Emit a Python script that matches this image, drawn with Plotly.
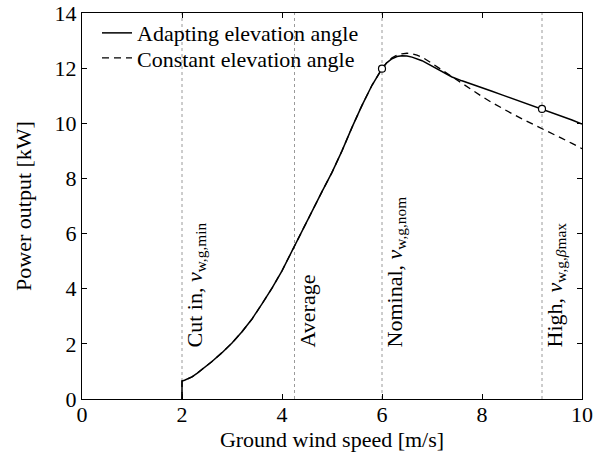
import plotly.graph_objects as go

# Data
wind_adapt = [2.0, 2.0, 2.05, 2.1, 2.2, 2.3, 2.4, 2.6, 2.8, 3.0, 3.2, 3.4, 3.6, 3.8, 4.0,
              4.2, 4.4, 4.6, 4.8, 5.0, 5.2, 5.4, 5.6, 5.8, 5.9, 6.0, 6.1, 6.2, 6.3, 6.4,
              6.5, 6.6, 6.8, 7.0, 7.2, 7.4, 7.6, 7.8, 8.0, 8.2, 8.4, 8.6, 8.8, 9.0, 9.2,
              9.4, 9.6, 9.8, 10.0]
power_adapt = [0.0, 0.65, 0.68, 0.72, 0.8, 0.93, 1.07, 1.36, 1.68, 2.03, 2.44, 2.9, 3.45, 4.02, 4.65,
               5.38, 6.1, 6.82, 7.52, 8.22, 9.0, 9.85, 10.65, 11.38, 11.7, 11.98, 12.2, 12.34, 12.42, 12.45,
               12.44, 12.4, 12.27, 12.08, 11.87, 11.68, 11.54, 11.42, 11.29, 11.16, 11.03, 10.9, 10.77, 10.65, 10.52,
               10.39, 10.26, 10.12, 9.97]

wind_const = [2.0, 2.0, 2.05, 2.1, 2.2, 2.3, 2.4, 2.6, 2.8, 3.0, 3.2, 3.4, 3.6, 3.8, 4.0,
              4.2, 4.4, 4.6, 4.8, 5.0, 5.2, 5.4, 5.6, 5.8, 5.9, 6.0, 6.1, 6.2, 6.3, 6.4,
              6.5, 6.6, 6.7, 6.8, 7.0, 7.2, 7.4, 7.6, 7.8, 8.0, 8.2, 8.4, 8.6, 8.8, 9.0,
              9.2, 9.4, 9.6, 9.8, 10.0]
power_const = [0.0, 0.65, 0.68, 0.72, 0.8, 0.93, 1.07, 1.36, 1.68, 2.03, 2.44, 2.9, 3.45, 4.02, 4.65,
               5.38, 6.1, 6.82, 7.52, 8.22, 9.0, 9.85, 10.65, 11.38, 11.7, 11.98, 12.22, 12.38, 12.47, 12.52,
               12.54, 12.52, 12.47, 12.4, 12.17, 11.93, 11.68, 11.43, 11.2, 10.97, 10.75, 10.54, 10.35, 10.16, 9.99,
               9.82, 9.62, 9.45, 9.27, 9.08]

marker_wind = [6.0, 9.2]
marker_power = [11.98, 10.52]

ref_wind = [2.0, 4.25, 6.0, 9.2]
ref_labels = [
    "Cut in, <i>v</i><sub>w,g,min</sub>",
    "Average",
    "Nominal, <i>v</i><sub>w,g,nom</sub>",
    "High, <i>v</i><sub>w,g,<i>β</i>max</sub>",
]

x_ticks = [0, 2, 4, 6, 8, 10]
y_ticks = [0, 2, 4, 6, 8, 10, 12, 14]

FONT = "Liberation Serif"
FS = 22

fig = go.Figure()

fig.add_trace(go.Scatter(
    x=wind_const, y=power_const, mode="lines", name="Constant elevation angle",
    line=dict(color="black", width=1.3, dash="7px,5px"), legend="legend2",
))
fig.add_trace(go.Scatter(
    x=wind_adapt, y=power_adapt, mode="lines", name="Adapting elevation angle",
    line=dict(color="black", width=1.5), legend="legend",
))
fig.add_trace(go.Scatter(
    x=marker_wind, y=marker_power, mode="markers", showlegend=False,
    marker=dict(symbol="circle", size=7, color="white", line=dict(color="black", width=1.2)),
))

for xv, lab in zip(ref_wind, ref_labels):
    fig.add_shape(type="line", x0=xv, x1=xv, y0=0, y1=14, xref="x", yref="y",
                  line=dict(color="#9a9a9a", width=1, dash="dot"), layer="below")
    fig.add_annotation(x=xv, y=1.78, xref="x", yref="y", text=lab, showarrow=False,
                       textangle=-90, xanchor="left", yanchor="bottom", xshift=-2,
                       font=dict(family=FONT, size=FS, color="black"))

axis_common = dict(
    showline=True, linecolor="black", linewidth=1, mirror="ticks",
    ticks="inside", ticklen=5, tickwidth=1, tickcolor="black",
    showgrid=False, zeroline=False, automargin=False,
    tickfont=dict(family=FONT, size=FS, color="black"),
)

fig.update_xaxes(range=[0, 10], tickvals=x_ticks, ticklabelstandoff=-4,
                 title=dict(text="Ground wind speed [m/s]", font=dict(family=FONT, size=FS, color="black"), standoff=0),
                 **axis_common)
fig.update_yaxes(range=[0, 14], tickvals=y_ticks,
                 title=dict(text="Power output [kW]", font=dict(family=FONT, size=FS, color="black"), standoff=16),
                 **axis_common)

legend_common = dict(x=0.03, xanchor="left", yanchor="middle",
                     bgcolor="rgba(0,0,0,0)", borderwidth=0,
                     font=dict(family=FONT, size=FS, color="black"))

fig.update_layout(
    width=594, height=455,
    margin=dict(l=82, r=12, t=13, b=56),
    plot_bgcolor="white", paper_bgcolor="white",
    font=dict(family=FONT, size=FS, color="black"),
    legend=dict(y=0.948, **legend_common),
    legend2=dict(y=0.883, **legend_common),
    showlegend=True,
)

fig.write_html("out.html", config={"displayModeBar": False},
               post_script="document.body.style.margin='0';document.body.style.overflow='hidden';")
